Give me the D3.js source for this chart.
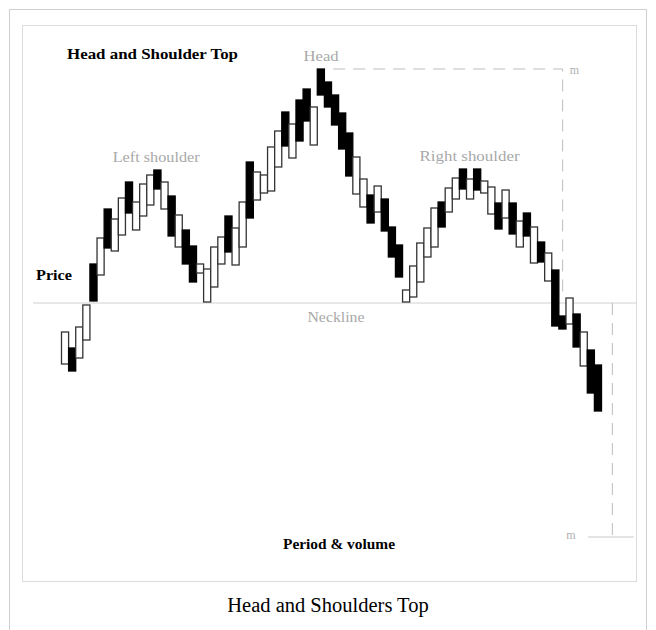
<!DOCTYPE html>
<html>
<head>
<meta charset="utf-8">
<script src="https://cdn.jsdelivr.net/npm/d3@7"></script>
<style>
  body { margin: 0; background: #fff; }
  svg { display: block; }
</style>
</head>
<body>
<svg width="656" height="630"></svg>
<script>
// bars, one per period (price units)
let opens = [19, 23, 20.5, 25, 44, 41.25, 57.75, 47.25, 51.25, 64.5,
  52.5, 56, 58.75, 67.5, 57.75, 61, 48.25, 52.5, 48.5, 41.75,
  34.5, 38.25, 44, 56, 43.75, 48.25, 69.5, 60, 61.75, 62.25,
  68.25, 82, 70.5, 85, 87.75, 73.75, 92.75, 89.5, 86.25, 81.75,
  76.75, 61.5, 58.25, 61.25, 57, 60.25, 53.25, 48.75, 34.5, 35.75,
  39.5, 45.75, 48.25, 59.5, 57, 60.25, 67.75, 60.25, 67.75, 61.75,
  56.5, 59.25, 55.5, 59.25, 48.25, 56.75, 44.25, 49.5, 39.75, 42.5,
  31, 29, 31.5, 18.5, 22.5, 18.75]
let closes = [27, 17.25, 28.25, 33.75, 34.75, 50.5, 48, 55.25, 60.5, 56.75,
  59.5, 64, 66.25, 62.75, 64.5, 51, 56.25, 44, 39.5, 44,
  42.75, 48.25, 50.75, 47, 53, 59.5, 55.5, 67, 66.25, 73.25,
  77.25, 73.5, 79, 74.75, 79.75, 83.25, 86.25, 83.25, 78.75, 72.75,
  66, 70.75, 65.25, 54.25, 63.5, 52.25, 45.75, 40.75, 37.5, 43.5,
  49.25, 53, 58, 53.25, 63, 65.5, 62.75, 65.25, 62.5, 64.75,
  63.25, 52.75, 62.5, 51.5, 54.75, 51, 53.25, 44.5, 46.75, 28.5,
  27.75, 35.5, 23.25, 27, 11.75, 7.25]

let neckline = 34.25
let headTop = d3.max(opens.concat(closes))
let target = neckline - (headTop - neckline)

let labels = [
  {text: "Head", i: 36.6, p: 94.75, w: 35},
  {text: "Left shoulder", i: 13.4, p: 69.5, w: 87},
  {text: "Right shoulder", i: 57.5, p: 69.75, w: 100},
  {text: "Neckline", i: 38.7, p: 29.5, w: 57}
]

let svg = d3.select("svg")

// frames
svg.append("rect")
  .attr("x", 9.5).attr("y", 9.5)
  .attr("width", 637).attr("height", 640)
  .attr("fill", "none").attr("stroke", "#cfcfcf")
svg.append("rect")
  .attr("x", 22.5).attr("y", 25.5)
  .attr("width", 614).attr("height", 556)
  .attr("fill", "none").attr("stroke", "#dcdcdc")

let n = opens.length
let x = d3.scaleBand().domain(d3.range(n)).range([61, 601]).padding(0)
let xi = d3.scaleLinear().domain([0, n]).range([61, 601])
let y = d3.scaleLinear().domain([0, 110]).range([440, 0])

// neckline
svg.append("line")
  .attr("x1", 33).attr("x2", 637)
  .attr("y1", y(neckline)).attr("y2", y(neckline))
  .attr("stroke", "#d0d0d0").attr("stroke-width", 1)

// measured move
let dash = "12,8"
svg.append("path")
  .attr("d", `M${xi(38.3)},${y(headTop)} H${xi(70.6)} V${y(neckline) - 8}`)
  .attr("fill", "none").attr("stroke", "#bdbdbd").attr("stroke-dasharray", dash)
svg.append("line")
  .attr("x1", xi(77.6)).attr("x2", xi(77.6))
  .attr("y1", y(neckline)).attr("y2", y(target))
  .attr("stroke", "#bdbdbd").attr("stroke-dasharray", dash)
svg.append("line")
  .attr("x1", xi(74.2)).attr("x2", xi(80.6))
  .attr("y1", y(target)).attr("y2", y(target))
  .attr("stroke", "#c8c8c8")

// bars
svg.append("g").selectAll("rect")
  .data(d3.range(n))
  .join("rect")
  .attr("x", i => x(i) + 0.5)
  .attr("y", i => y(Math.max(opens[i], closes[i])))
  .attr("width", x.bandwidth())
  .attr("height", i => Math.abs(y(opens[i]) - y(closes[i])))
  .attr("fill", i => closes[i] > opens[i] ? "#fff" : "#000")
  .attr("stroke", i => closes[i] > opens[i] ? "#333" : "#000")
  .attr("stroke-width", 1.3)

// labels
svg.append("g").selectAll("text")
  .data(labels)
  .join("text")
  .attr("x", d => xi(d.i) - d.w / 2)
  .attr("y", d => y(d.p))
  .attr("textLength", d => d.w)
  .attr("lengthAdjust", "spacingAndGlyphs")
  .attr("font-family", "'Liberation Serif', 'DejaVu Serif', serif")
  .attr("font-size", 14)
  .attr("fill", "#a8a8a8")
  .text(d => d.text)

svg.append("text")
  .attr("x", xi(71.6)).attr("y", y(headTop) + 5)
  .attr("font-family", "'Liberation Serif', serif").attr("font-size", 12)
  .attr("fill", "#b0b0b0").text("m")
svg.append("text")
  .attr("x", xi(71.1)).attr("y", y(target) + 2)
  .attr("font-family", "'Liberation Serif', serif").attr("font-size", 12)
  .attr("fill", "#b0b0b0").text("m")

let bold = svg.append("g")
  .attr("font-family", "'Liberation Serif', 'DejaVu Serif', serif")
  .attr("font-weight", "bold")
  .attr("fill", "#000")
  .attr("lengthAdjust", "spacingAndGlyphs")
bold.append("text").attr("x", 67).attr("y", 59).attr("font-size", 15)
  .attr("textLength", 171).attr("lengthAdjust", "spacingAndGlyphs")
  .text("Head and Shoulder Top")
bold.append("text").attr("x", 36).attr("y", 280).attr("font-size", 14)
  .attr("textLength", 36).attr("lengthAdjust", "spacingAndGlyphs")
  .text("Price")
bold.append("text").attr("x", 283).attr("y", 549).attr("font-size", 14)
  .attr("textLength", 112).attr("lengthAdjust", "spacingAndGlyphs")
  .text("Period & volume")

svg.append("text")
  .attr("x", 328).attr("y", 612)
  .attr("text-anchor", "middle")
  .attr("font-family", "'Liberation Serif', serif")
  .attr("font-size", 20.5)
  .attr("fill", "#000")
  .text("Head and Shoulders Top")
</script>
</body>
</html>
